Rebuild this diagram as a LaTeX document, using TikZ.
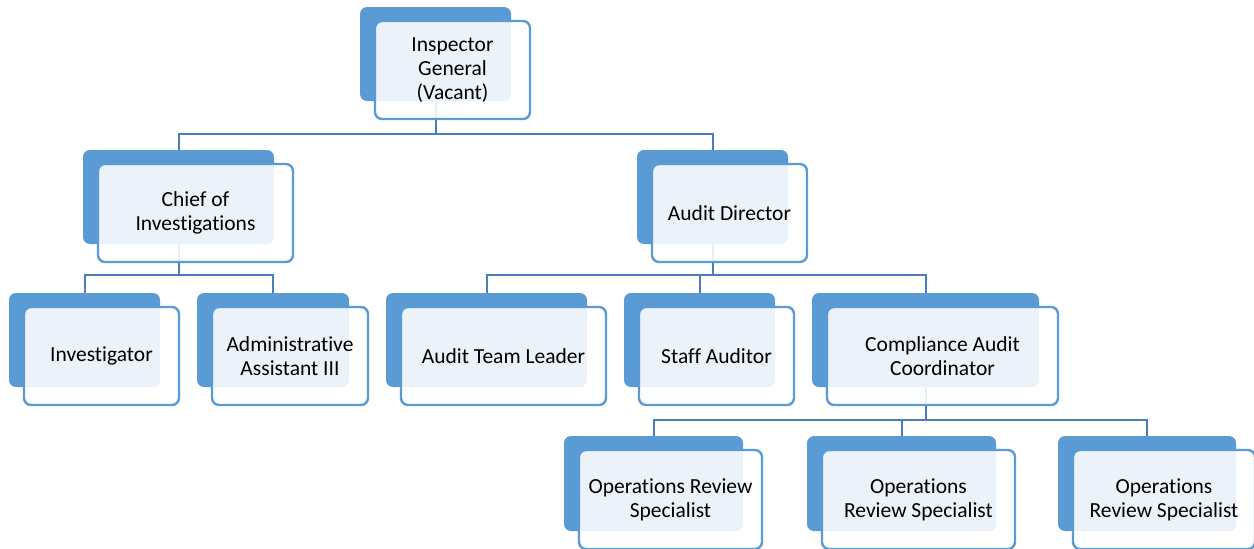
\documentclass[tikz,border=0pt]{standalone}
\usepackage{fontspec}
\setmainfont{Carlito}[Ligatures=NoCommon]
\definecolor{backblue}{HTML}{5B9BD5}
\definecolor{edgeblue}{HTML}{5B9BD5}
\definecolor{connblue}{HTML}{4A7EBB}
\tikzset{
  backbox/.style={fill=backblue, rounded corners=7pt, inner sep=0pt, outer sep=0pt},
  frontbox/.style={draw=edgeblue, line width=2.4pt, fill=white, fill opacity=0.88, text opacity=1,
    rounded corners=7pt, inner sep=2pt, outer sep=0pt, align=center,
    font=\fontsize{21.5}{24}\selectfont},
  conn/.style={draw=connblue, line width=2pt}
}
\newcommand{\orgunit}[6]{%
  \node[backbox, minimum width={(#4-#2)*1pt}, minimum height={(#5-#3)*1pt}]
    (#1b) at ({(#2+#4)/2},{(#3+#5)/2}) {};
}
\newcommand{\orgfront}[6]{%
  \node[frontbox, minimum width={(#4-#2+4)*1pt}, minimum height={(#5-#3+4)*1pt}]
    (#1) at ({(#2+#4)/2+17},{(#3+#5)/2+16}) {#6};
}
\newcommand{\allunits}[1]{%
  #1{ig}{360}{7}{511}{101}{Inspector\\General\\(Vacant)}
  #1{ch}{83}{150}{274}{244}{Chief of\\Investigations}
  #1{ad}{637}{150}{788}{244}{Audit Director}
  #1{inv}{9}{293}{160}{387}{Investigator}
  #1{adm}{197}{293}{349}{387}{Administrative\\Assistant III}
  #1{atl}{386}{293}{587}{387}{Audit Team Leader}
  #1{sta}{624}{293}{775}{387}{Staff Auditor}
  #1{cac}{812}{293}{1039}{387}{Compliance Audit\\Coordinator}
  #1{orsa}{564}{436}{743}{531}{Operations Review\\Specialist}
  #1{orsb}{807}{436}{996}{531}{Operations\\Review Specialist}
  #1{orsc}{1058}{436}{1236}{531}{Operations\\Review Specialist}
}
\begin{document}
\begin{tikzpicture}[x=1pt,y=-1pt]
\useasboundingbox (0,0) rectangle (1254,549);
\coordinate (barA) at (0,134);
\coordinate (barB) at (0,275);
\coordinate (barC) at (0,420);
% back boxes (named) first, so connectors can refer to them
\allunits{\orgunit}
% connectors
\draw[conn] (igb.south) -- (igb.south |- barA) -| (chb.north);
\draw[conn] (igb.south |- barA) -| (adb.north);
\draw[conn] (chb.south) -- (chb.south |- barB) -| (invb.north);
\draw[conn] (chb.south |- barB) -| (admb.north);
\draw[conn] (adb.south) -- (adb.south |- barB) -| (atlb.north);
\draw[conn] (adb.south |- barB) -| (stab.north);
\draw[conn] (adb.south |- barB) -| (cacb.north);
\draw[conn] (cacb.south) -- (cacb.south |- barC) -| (orsab.north);
\draw[conn] (cacb.south |- barC) -| (orsbb.north);
\draw[conn] (cacb.south |- barC) -| (orscb.north);
% front boxes
\allunits{\orgfront}
\end{tikzpicture}
\end{document}
